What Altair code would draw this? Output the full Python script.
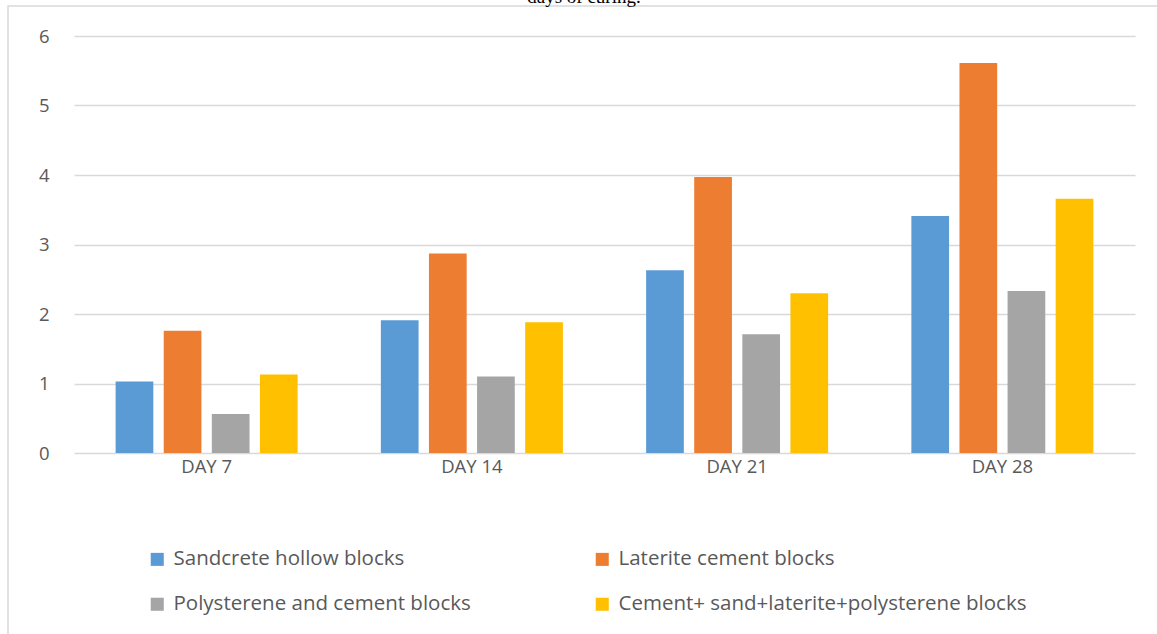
import altair as alt
import pandas as pd

# Compressive strength by curing age for each block type
days = ["DAY 7", "DAY 14", "DAY 21", "DAY 28"]
series = [
    "Sandcrete hollow blocks",
    "Laterite cement blocks",
    "Polysterene and cement blocks",
    "Cement+ sand+laterite+polysterene blocks",
]
sandcrete = [1.03, 1.91, 2.63, 3.41]
laterite = [1.76, 2.87, 3.97, 5.61]
polysterene = [0.56, 1.10, 1.71, 2.33]
mixed = [1.13, 1.88, 2.30, 3.66]
colors = ["#5B9BD5", "#ED7D31", "#A5A5A5", "#FFC000"]

rows = []
for name, values in zip(series, [sandcrete, laterite, polysterene, mixed]):
    for day, v in zip(days, values):
        rows.append({"day": day, "block": name, "value": v})
df = pd.DataFrame(rows)

FONT = "Open Sans"
TEXT = "#595959"

bars = alt.Chart(df).mark_bar().encode(
    x=alt.X(
        "day:N",
        sort=days,
        title=None,
        scale=alt.Scale(paddingInner=0, paddingOuter=0),
        axis=alt.Axis(
            labelAngle=0, labelFontSize=18.5, labelColor=TEXT, labelFont=FONT,
            labelPadding=4, domain=False, ticks=False, grid=False,
        ),
    ),
    xOffset=alt.XOffset(
        "block:N", sort=series,
        scale=alt.Scale(paddingInner=0.216, paddingOuter=0.865),
    ),
    y=alt.Y(
        "value:Q",
        title=None,
        scale=alt.Scale(domain=[0, 6], nice=False),
        axis=alt.Axis(
            values=[0, 1, 2, 3, 4, 5, 6], labelFontSize=18.5, labelColor=TEXT,
            labelFont=FONT, labelPadding=25, domain=False, ticks=False,
            grid=True, gridColor="#D9D9D9", gridWidth=1.3,
        ),
    ),
    color=alt.Color(
        "block:N",
        sort=series,
        scale=alt.Scale(domain=series, range=colors),
        legend=alt.Legend(
            title=None, orient="none", legendX=73, legendY=513, columns=2,
            direction="horizontal", columnPadding=121, rowPadding=24,
            symbolType="square", symbolSize=170, symbolStrokeWidth=0,
            labelFontSize=20.5, labelColor=TEXT, labelFont=FONT,
            labelOffset=6, labelLimit=600,
        ),
    ),
)

# Caption line running off the top edge
caption = alt.Chart().mark_text(
    text="days of curing.", font="Liberation Serif", fontSize=19,
    color="#000000", align="center", baseline="alphabetic",
).encode(x=alt.value(510), y=alt.value(-33.5))

# Light frame around the chart area
frame = alt.Chart().mark_rect(
    fill=None, stroke="#D9D9D9", strokeWidth=1.5,
).encode(
    x=alt.value(-66), x2=alt.value(1200),
    y=alt.value(-30), y2=alt.value(700),
)

chart = alt.layer(frame, bars, caption).properties(
    width=1061,
    height=417,
    background="#FFFFFF",
    autosize=alt.AutoSizeParams(type="none"),
    padding={"left": 74, "top": 36, "right": 22, "bottom": 181},
).configure_view(strokeWidth=0)

chart.save("out.html", embed_options={"renderer": "svg", "actions": False})
